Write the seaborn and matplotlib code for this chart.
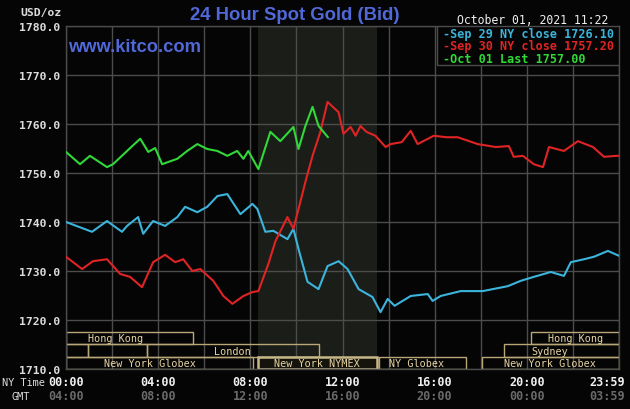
import matplotlib
matplotlib.use("Agg")
import matplotlib.pyplot as plt
import matplotlib.transforms as mtransforms
from matplotlib.patches import Rectangle
import seaborn as sns
import pandas as pd

# ---------------- data ----------------
sep29_hours = [0.0, 1.13, 1.78, 2.43, 2.65, 3.13, 3.35, 3.78, 4.30, 4.83, 5.17, 5.70, 6.13, 6.57,
               7.0, 7.57, 8.09, 8.30, 8.65, 9.0, 9.61, 9.87, 10.09, 10.48, 10.96, 11.35, 11.83,
               12.22, 12.70, 13.30, 13.65, 13.96, 14.26, 14.96, 15.70, 15.91, 16.26, 17.13,
               18.09, 19.17, 19.74, 20.30, 21.04, 21.61, 21.91, 22.48, 22.91, 23.52, 24.0]
sep29_vals = [1740.0, 1738.0, 1740.2, 1738.0, 1739.2, 1741.0, 1737.6, 1740.2, 1739.2, 1741.0,
              1743.1, 1742.0, 1743.1, 1745.3, 1745.7, 1741.6, 1743.7, 1742.7, 1738.0, 1738.2,
              1736.5, 1738.6, 1734.5, 1727.8, 1726.3, 1731.0, 1732.0, 1730.4, 1726.3, 1724.7,
              1721.6, 1724.3, 1722.9, 1724.9, 1725.3, 1723.9, 1724.9, 1725.9, 1725.9, 1726.9,
              1728.0, 1728.8, 1729.8, 1729.0, 1731.8, 1732.4, 1732.9, 1734.1, 1733.1]

sep30_hours = [0.0, 0.70, 1.17, 1.78, 2.35, 2.78, 3.30, 3.78, 4.30, 4.74, 5.09, 5.48, 5.83,
               6.39, 6.83, 7.22, 7.70, 8.09, 8.35, 8.78, 9.09, 9.61, 9.87, 10.17, 10.39,
               10.70, 11.04, 11.35, 11.83, 12.04, 12.35, 12.57, 12.78, 13.04, 13.43, 13.87,
               14.09, 14.57, 14.96, 15.26, 15.96, 16.52, 17.0, 17.87, 18.65, 19.22, 19.43,
               19.83, 20.30, 20.70, 20.96, 21.61, 22.22, 22.87, 23.35, 23.87, 24.0]
sep30_vals = [1732.9, 1730.4, 1732.0, 1732.4, 1729.4, 1728.8, 1726.7, 1731.8, 1733.3, 1731.8,
              1732.4, 1730.0, 1730.4, 1728.0, 1724.9, 1723.3, 1724.9, 1725.7, 1725.9, 1731.4,
              1736.1, 1741.0, 1738.6, 1744.1, 1748.2, 1753.5, 1758.4, 1764.5, 1762.4, 1758.0,
              1759.4, 1757.6, 1759.6, 1758.4, 1757.6, 1755.3, 1755.9, 1756.3, 1758.6, 1755.9,
              1757.6, 1757.3, 1757.3, 1755.9, 1755.3, 1755.5, 1753.3, 1753.5, 1751.8, 1751.2,
              1755.3, 1754.5, 1756.5, 1755.3, 1753.3, 1753.5, 1753.5]

oct01_hours = [0.0, 0.61, 1.04, 1.78, 2.04, 2.65, 3.22, 3.57, 3.87, 4.17, 4.83, 5.26, 5.70,
               6.13, 6.57, 7.0, 7.43, 7.70, 7.91, 8.35, 8.87, 9.30, 9.87, 10.09, 10.39, 10.70,
               10.96, 11.37]
oct01_vals = [1754.3, 1751.8, 1753.5, 1751.2, 1751.8, 1754.5, 1757.0, 1754.3, 1755.1, 1751.8,
              1752.9, 1754.5, 1755.9, 1754.9, 1754.5, 1753.5, 1754.5, 1752.9, 1754.5, 1750.8,
              1758.4, 1756.5, 1759.4, 1754.9, 1759.6, 1763.5, 1759.6, 1757.3]

series_names = ["Sep 29 NY close 1726.10", "Sep 30 NY close 1757.20", "Oct 01 Last 1757.00"]
series_colors = ["#3cb4dc", "#e02424", "#30d838"]

y_ticks = [1710, 1720, 1730, 1740, 1750, 1760, 1770, 1780]
ny_labels = ["00:00", "04:00", "08:00", "12:00", "16:00", "20:00", "23:59"]
gmt_labels = ["04:00", "08:00", "12:00", "16:00", "20:00", "00:00", "03:59"]
label_hours = [0, 4, 8, 12, 16, 20, 23.5]

# sessions: (row, start_hour, end_hour, label, label_hour)
sessions = [
    (0, 0.0, 5.5, "Hong Kong", 2.13), (0, 20.2, 24.0, "Hong Kong", 22.1),
    (1, 0.0, 0.95, "", 0), (1, 0.95, 3.5, "", 0), (1, 3.5, 10.96, "London", 7.2),
    (1, 19.0, 24.0, "Sydney", 21.0),
    (2, 0.0, 8.1, "New York Globex", 3.65), (2, 8.33, 13.5, "New York NYMEX", 10.9),
    (2, 13.58, 17.35, "NY Globex", 15.2), (2, 18.05, 24.0, "New York Globex", 21.0),
]

# ---------------- figure ----------------
sns.set_style("dark")
plt.rcParams["font.family"] = ["DejaVu Sans Mono", "DejaVu Sans"]

fig = plt.figure(figsize=(6.3, 4.1), dpi=100, facecolor="#050505")
ax = fig.add_axes([66 / 630, 1 - 370 / 410, 553 / 630, 343 / 410])
ax.set_facecolor("#050505")

grid_c = "#4c4c4c"
ax.set_xlim(0, 24)
ax.set_ylim(1710, 1780)
ax.set_xticks(range(0, 25, 2))
ax.set_yticks(y_ticks)
ax.grid(True, color=grid_c, linewidth=1.0)
ax.set_axisbelow(True)
for s in ax.spines.values():
    s.set_color(grid_c)
    s.set_linewidth(1.0)
ax.tick_params(length=0, colors="#dddddd")
ax.set_xticklabels([])
ax.set_yticklabels([f"{v:.1f}" for v in y_ticks], fontsize=8.2, fontweight="bold",
                   color="#dddddd")
ax.tick_params(axis="y", pad=4)

# NYMEX shading
ax.axvspan(8 + 20 / 60, 13.5, color="#1b1d19", zorder=0.5, lw=0)

# sessions
row_top = [1717.55, 1715.05, 1712.5]
row_bot = [1715.1, 1712.5, 1710.0]
sess_c = "#b8a878"
for row, h0, h1, lab, lh in sessions:
    nymex = "NYMEX" in lab
    ax.add_patch(Rectangle((h0, row_bot[row]), h1 - h0, row_top[row] - row_bot[row],
                           fill=nymex, facecolor="#14140c",
                           edgecolor="#c8b888" if nymex else sess_c,
                           lw=1.8 if nymex else 1.0, zorder=2))
    if lab:
        ax.text(lh, (row_top[row] + row_bot[row]) / 2, lab, ha="center", va="center",
                fontsize=7.3, color="#e8d4a4", zorder=3)

# lines
dfs = [pd.DataFrame({"hour": h, "price": v}) for h, v in
       [(sep29_hours, sep29_vals), (sep30_hours, sep30_vals), (oct01_hours, oct01_vals)]]
for df, c in zip(dfs, series_colors):
    sns.lineplot(data=df, x="hour", y="price", color=c, linewidth=1.5, ax=ax, zorder=4)
ax.set_xlabel("")
ax.set_ylabel("")

# legend box
lx0 = 16.1
ax.add_patch(Rectangle((lx0, 1772.0), 24 - lx0, 8.0, facecolor="#050505",
                       edgecolor=grid_c, lw=1.0, zorder=5))
for i, (name, c) in enumerate(zip(series_names, series_colors)):
    ax.text(16.35, 1778.5 - i * 2.55, "-" + name, color=c, fontsize=8.5,
            fontweight="bold", ha="left", va="center", zorder=6)

# time labels
xt = mtransforms.blended_transform_factory(ax.transData, fig.transFigure)
for h, ny, gmt in zip(label_hours, ny_labels, gmt_labels):
    ax.text(h, 1 - 383 / 410, ny, transform=xt, ha="center", va="center",
            fontsize=8.5, fontweight="bold", color="#f0f0f0")
    ax.text(h, 1 - 397 / 410, gmt, transform=xt, ha="center", va="center",
            fontsize=8.5, fontweight="bold", color="#6a6a6a")
fig.text(2 / 630, 1 - 383 / 410, "NY Time", ha="left", va="center", fontsize=7.4,
         color="#dddddd")
fig.text(11 / 630, 1 - 397 / 410, "GMT", ha="left", va="center", fontsize=7.4,
         color="#dddddd")

# header texts
fig.text(20 / 630, 1 - 13 / 410, "USD/oz", ha="left", va="center", fontsize=8.2,
         fontweight="bold", color="#dddddd")
fig.text(295 / 630, 1 - 15 / 410, "24 Hour Spot Gold (Bid)", ha="center", va="center",
         fontsize=13.3, fontweight="bold", color="#5068d8", family="Liberation Sans")
fig.text(608 / 630, 1 - 20 / 410, "October 01, 2021 11:22", ha="right", va="center",
         fontsize=8.3, color="#f0f0f0")
fig.text(68 / 630, 1 - 48 / 410, "www.kitco.com", ha="left", va="center",
         fontsize=13.2, fontweight="bold", color="#5068d8", family="Liberation Sans")

fig.savefig("out.png", dpi=100, facecolor=fig.get_facecolor())
